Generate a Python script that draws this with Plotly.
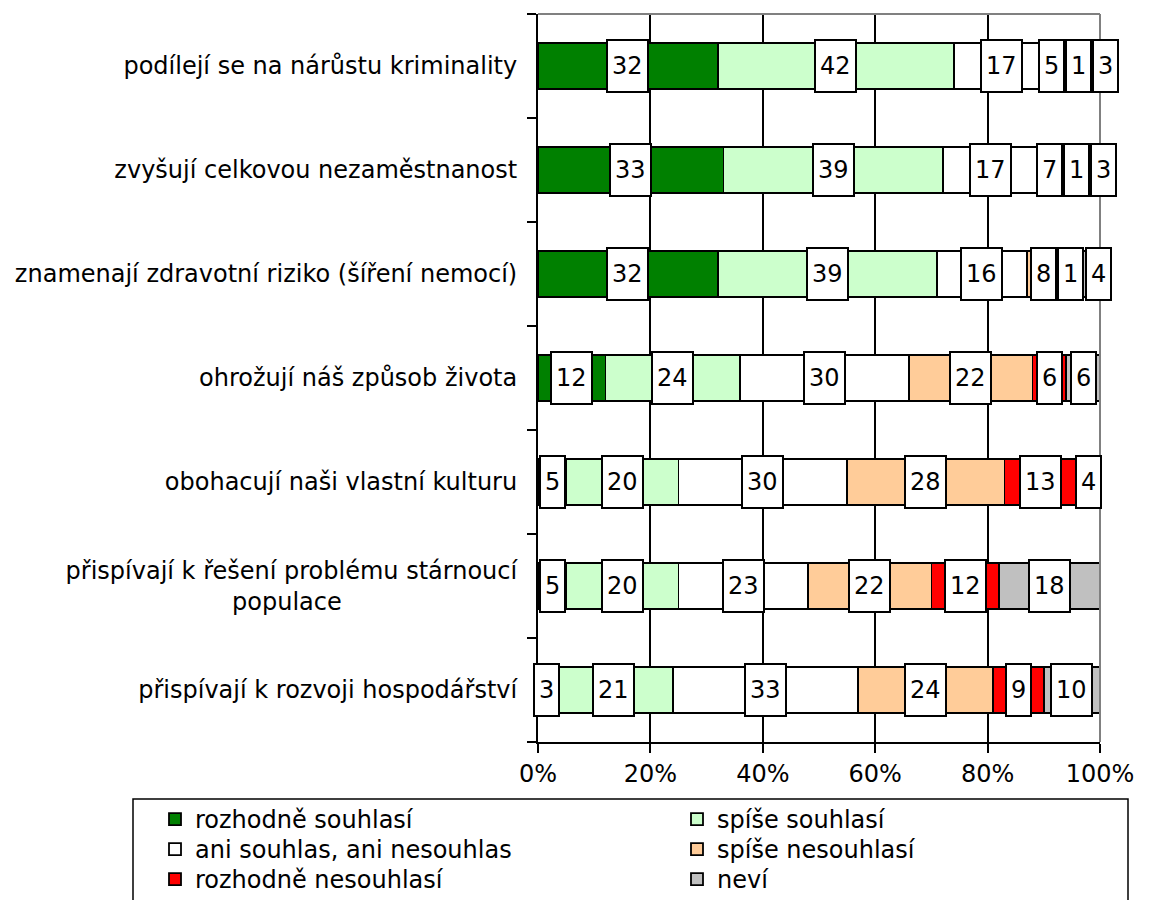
import plotly.graph_objects as go

categories = [
    "podílejí se na nárůstu kriminality",
    "zvyšují celkovou nezaměstnanost",
    "znamenají zdravotní riziko (šíření nemocí)",
    "ohrožují náš způsob života",
    "obohacují naši vlastní kulturu",
    "přispívají k řešení problému stárnoucí populace",
    "přispívají k rozvoji hospodářství",
]
tick_text = [
    "podílejí se na nárůstu kriminality",
    "zvyšují celkovou nezaměstnanost",
    "znamenají zdravotní riziko (šíření nemocí)",
    "ohrožují náš způsob života",
    "obohacují naši vlastní kulturu",
    "přispívají k řešení problému stárnoucí<br>populace" + "\u00a0" * 23,
    "přispívají k rozvoji hospodářství",
]
x_tickvals = [0, 20, 40, 60, 80, 100]
x_ticktext = ["0%", "20%", "40%", "60%", "80%", "100%"]

series_names = [
    "rozhodně souhlasí",
    "spíše souhlasí",
    "ani souhlas, ani nesouhlas",
    "spíše nesouhlasí",
    "rozhodně nesouhlasí",
    "neví",
]
rozhodne_souhlasi = [32, 33, 32, 12, 5, 5, 3]
spise_souhlasi = [42, 39, 39, 24, 20, 20, 21]
ani_ani = [17, 17, 16, 30, 30, 23, 33]
spise_nesouhlasi = [5, 7, 8, 22, 28, 22, 24]
rozhodne_nesouhlasi = [1, 1, 1, 6, 13, 12, 9]
nevi = [3, 3, 4, 6, 4, 18, 10]

series_values = [rozhodne_souhlasi, spise_souhlasi, ani_ani,
                 spise_nesouhlasi, rozhodne_nesouhlasi, nevi]
colors = ["#008000", "#CCFFCC", "#FFFFFF", "#FFCC99", "#FF0000", "#C0C0C0"]

FONT = "DejaVu Sans"
FS = 24
W, H = 1141, 892          # page has an 8px body margin
ML, MR, MT, MB = 530, 49, 6, 158

# legend grid (page pixels): two columns, three rows
legend_cols_x = [147, 669]
legend_rows_y = [820, 850, 880]

legend_ids = ["legend", "legend2", "legend3", "legend4", "legend5", "legend6"]

fig = go.Figure()
for name, vals, col, lg in zip(series_names, series_values, colors, legend_ids):
    fig.add_trace(go.Bar(
        y=categories, x=vals, name=name, orientation="h",
        marker=dict(color=col, line=dict(color="black", width=1.8)),
        hoverinfo="x+y+name", legend=lg,
    ))

# data labels in white boxes, centered on segments, de-overlapped per row
plot_w = W - ML - MR
px_per_unit = plot_w / 100.0
annotations = []
for ci, cat in enumerate(categories):
    boxes = []
    cum = 0
    for vals in series_values:
        v = vals[ci]
        if v > 0:
            w = 15.3 * len(str(v)) + 12  # total px incl. padding & border
            boxes.append([cum + v / 2.0, w / px_per_unit, v])
        cum += v
    clusters = [[b] for b in boxes]
    changed = True
    while changed:
        changed = False
        pos = []
        for cl in clusters:
            tot = sum(b[1] for b in cl)
            mean = sum(b[0] for b in cl) / len(cl)
            pos.append((mean - tot / 2, mean + tot / 2))
        for i in range(len(clusters) - 1):
            if pos[i][1] > pos[i + 1][0] + 1e-9:
                clusters[i] = clusters[i] + clusters[i + 1]
                del clusters[i + 1]
                changed = True
                break
    for cl in clusters:
        tot = sum(b[1] for b in cl)
        mean = sum(b[0] for b in cl) / len(cl)
        left = mean - tot / 2
        for b in cl:
            cx = left + b[1] / 2
            left += b[1]
            xs = 0
            if cx > 100:
                xs = (cx - 100) * px_per_unit
                cx = 100
            if cx < 0:
                xs = cx * px_per_unit
                cx = 0
            annotations.append(dict(
                x=cx, y=cat, xref="x", yref="y", text=str(b[2]), xshift=xs,
                showarrow=False, font=dict(family=FONT, size=FS, color="black"),
                bgcolor="white", bordercolor="black", borderwidth=2,
                borderpad=1, width=b[1] * px_per_unit - 6, height=48,
            ))

def px_to_paper_x(px):
    return (px - ML) / plot_w

def px_to_paper_y(py):
    return (H - MB - py) / (H - MT - MB)

legend_common = dict(
    orientation="v", xref="container", yref="container",
    xanchor="left", yanchor="top",
    borderwidth=0, bgcolor="rgba(0,0,0,0)",
    font=dict(family=FONT, size=FS, color="black"),
    traceorder="normal", itemwidth=30,
)
legend_layout = {}
for i, lg in enumerate(legend_ids):
    row, colm = divmod(i, 2)
    legend_layout[lg] = dict(
        x=legend_cols_x[colm] / W,
        y=1 - (legend_rows_y[row] - 31) / H,
        **legend_common,
    )

fig.update_layout(
    barmode="stack",
    bargap=0.56,
    width=W, height=H,
    margin=dict(l=ML, r=MR, t=MT, b=MB, autoexpand=False),
    paper_bgcolor="white", plot_bgcolor="white",
    font=dict(family=FONT, size=FS, color="black"),
    showlegend=True,
    annotations=annotations,
    shapes=[
        dict(type="line", xref="paper", yref="paper", x0=0, x1=1, y0=1, y1=1,
             line=dict(color="#808080", width=2)),
        dict(type="line", xref="paper", yref="paper", x0=1, x1=1, y0=0, y1=1,
             line=dict(color="#808080", width=2)),
        dict(type="rect", xref="paper", yref="paper",
             x0=px_to_paper_x(125), x1=px_to_paper_x(1120),
             y0=px_to_paper_y(791), y1=px_to_paper_y(905),
             line=dict(color="black", width=1.5), fillcolor="rgba(0,0,0,0)"),
    ],
    **legend_layout,
)
fig.update_xaxes(
    range=[0, 100], tickmode="array", tickvals=x_tickvals, ticktext=x_ticktext,
    showgrid=True, gridcolor="black", gridwidth=1.5,
    showline=True, linecolor="black", linewidth=2,
    ticks="outside", ticklen=9, tickwidth=2, tickcolor="black",
    zeroline=False, fixedrange=True, automargin=False,
    tickfont=dict(family=FONT, size=FS),
)
fig.update_yaxes(
    categoryorder="array", categoryarray=categories, autorange="reversed",
    tickmode="array", tickvals=categories, ticktext=tick_text,
    tickson="boundaries", ticks="outside", ticklen=9, tickwidth=2,
    tickcolor="black", showline=True, linecolor="black", linewidth=2,
    showgrid=False, fixedrange=True, ticklabelstandoff=14, automargin=False,
    tickfont=dict(family=FONT, size=FS),
)
fig.write_html("out.html")
